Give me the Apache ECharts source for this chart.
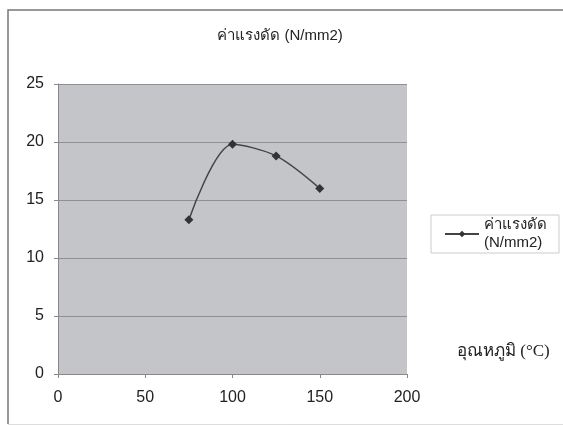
<!DOCTYPE html>
<html>
<head>
<meta charset="utf-8">
<script src="https://cdn.jsdelivr.net/npm/echarts@6/dist/echarts.min.js"></script>
<style>
  html, body { margin: 0; padding: 0; background: #fff; }
  #chart { width: 563px; height: 426px; }
</style>
</head>
<body>
<div id="chart"></div>
<script>
// Shear strength versus temperature
const seriesName = 'ค่าแรงดัด (N/mm2)';
const temperatures = [75, 100, 125, 150];
const shearValues = [13.3, 19.8, 18.8, 16.0];
const xTicks = [0, 50, 100, 150, 200];
const yTicks = [0, 5, 10, 15, 20, 25];

const points = temperatures.map((t, i) => [t, shearValues[i]]);
const labelFont = '"Liberation Sans", Arial, sans-serif';

const chart = echarts.init(document.getElementById('chart'));
chart.setOption({
  backgroundColor: '#fff',
  animation: false,
  title: {
    text: seriesName,
    left: 275,
    textAlign: 'center',
    top: 23,
    textStyle: { fontFamily: labelFont, fontSize: 15, fontWeight: 'normal', color: '#222' }
  },
  graphic: [
    {
      type: 'polyline',
      shape: { points: [[800, 10], [8, 10], [8, 424]] },
      style: { fill: 'none', stroke: '#777', lineWidth: 1.5 },
      silent: true
    },
    {
      type: 'line',
      shape: { x1: 8, y1: 424.5, x2: 563, y2: 424.5 },
      style: { stroke: '#ddd', lineWidth: 1 },
      silent: true
    },
    {
      type: 'text',
      left: 457,
      top: 343,
      style: {
        text: 'อุณหภูมิ (°C)',
        font: '17px "Liberation Serif", "Times New Roman", serif',
        fill: '#222'
      }
    }
  ],
  legend: {
    left: 431,
    top: 215,
    orient: 'vertical',
    itemWidth: 34,
    itemHeight: 8,
    itemGap: 0,
    padding: [1, 12, 1, 13],
    borderColor: '#ccc',
    borderWidth: 1,
    backgroundColor: '#fff',
    formatter: () => 'ค่าแรงดัด\n(N/mm2)',
    textStyle: { fontFamily: labelFont, fontSize: 15, color: '#222', align: 'right', lineHeight: 18 }
  },
  grid: { left: 58, right: 156, top: 84, bottom: 52, show: true, backgroundColor: '#c3c5c8', borderWidth: 0 },
  xAxis: {
    type: 'value',
    min: xTicks[0],
    max: xTicks[xTicks.length - 1],
    interval: xTicks[1] - xTicks[0],
    axisLine: { show: true, lineStyle: { color: '#888', width: 1 } },
    axisTick: { show: true, length: 4, lineStyle: { color: '#888' } },
    splitLine: { show: false },
    axisLabel: { fontFamily: labelFont, fontSize: 16, color: '#222', margin: 16 }
  },
  yAxis: {
    type: 'value',
    min: yTicks[0],
    max: yTicks[yTicks.length - 1],
    interval: yTicks[1] - yTicks[0],
    axisLine: { show: true, lineStyle: { color: '#888', width: 1 } },
    axisTick: { show: true, length: 4, lineStyle: { color: '#888' } },
    splitLine: { show: true, lineStyle: { color: '#8e9093', width: 1 } },
    axisLabel: { fontFamily: labelFont, fontSize: 16, color: '#222', margin: 14 }
  },
  series: [{
    name: seriesName,
    type: 'line',
    data: points,
    smooth: 0.3,
    symbol: 'diamond',
    symbolSize: 9,
    itemStyle: { color: '#333' },
    lineStyle: { color: '#444', width: 1.5 }
  }]
});
</script>
</body>
</html>
